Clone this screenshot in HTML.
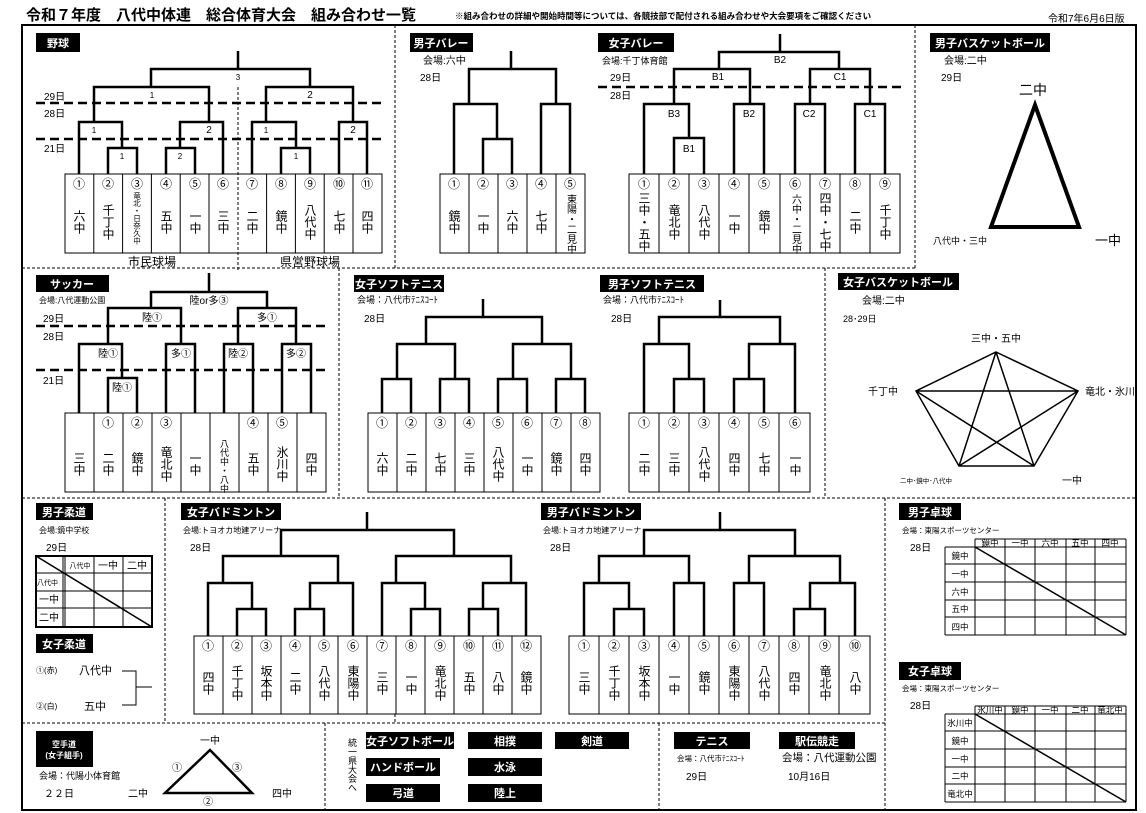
<!DOCTYPE html>
<html><head><meta charset="utf-8">
<style>
html,body{margin:0;padding:0;background:#fff;}
svg{display:block;font-family:"Liberation Sans","Noto Sans CJK JP",sans-serif;}
.b{stroke:#000;stroke-width:2.5;fill:none;}
.c{stroke:#000;stroke-width:1;fill:none;}
.d{stroke:#000;stroke-width:2.5;fill:none;stroke-dasharray:9 5;}
.s{stroke:#000;stroke-width:1;fill:none;stroke-dasharray:3 2;}
.n{font-size:12px;text-anchor:middle;}
.v{font-size:12px;writing-mode:vertical-rl;text-anchor:middle;}
.vs{font-size:7.5px;writing-mode:vertical-rl;text-anchor:middle;}
.l{font-size:8px;text-anchor:middle;}
.lb{font-size:10px;text-anchor:middle;}
.t{font-size:11px;font-weight:bold;fill:#fff;text-anchor:middle;}
.sm{font-size:9px;}
.md{font-size:10px;}
</style></head><body>
<svg width="1146" height="813" viewBox="0 0 1146 813" xmlns="http://www.w3.org/2000/svg">
<!-- header -->
<text x="26" y="20" style="font-size:15px;font-weight:bold">令和７年度　八代中体連　総合体育大会　組み合わせ一覧</text>
<text x="455" y="19" style="font-size:8.5px;font-weight:bold">※組み合わせの詳細や開始時間等については、各競技部で配付される組み合わせや大会要項をご確認ください</text>
<text x="1048" y="22" class="md">令和7年6月6日版</text>
<rect x="22" y="25" width="1114" height="785" fill="none" stroke="#000" stroke-width="2"/>

<!-- separators -->
<path class="s" d="M395 25 V268 M915 25 V268 M22 268 H915 M339 268 V498 M825 268 V498 M22 498 H1136 M165 498 V723 M885 498 V810 M22 723 H885 M325 723 V810 M659 723 V810 M395 714 V723"/>

<!-- ===== 野球 ===== -->
<rect x="36" y="33" width="44" height="19" fill="#000"/><text x="58" y="47" class="t">野球</text>
<text x="44" y="100" class="md">29日</text><text x="44" y="117" class="md">28日</text><text x="44" y="152" class="md">21日</text>
<path class="d" d="M36 103 H382 M36 139 H382"/>
<path class="s" d="M238 87 V270"/>
<path class="b" d="M108 174V148H137V174 M166 174V148H195V174 M79 174V122H122V148 M180 148V122H223V174 M94 122V87H209V122 M281 174V148H310V174 M252 174V122H296V148 M339 174V122H367V174 M266 122V87H353V122 M151 87V69H310V87 M238 69V51"/>
<text x="238" y="80" class="l">3</text><text x="152" y="98" class="l">1</text><text x="310" y="98" class="lb">2</text>
<text x="94" y="133" class="l">1</text><text x="209" y="133" class="lb">2</text><text x="266" y="133" class="l">1</text><text x="353" y="133" class="lb">2</text>
<text x="122" y="159" class="l">1</text><text x="180" y="159" class="l">2</text><text x="296" y="159" class="l">1</text>
<rect class="c" x="65" y="174" width="317" height="79"/>
<path class="c" d="M93.8 174V253M122.6 174V253M151.4 174V253M180.2 174V253M209 174V253M266.6 174V253M295.4 174V253M324.2 174V253M353 174V253"/>
<g class="n"><text x="79" y="188">①</text><text x="108" y="188">②</text><text x="137" y="188">③</text><text x="166" y="188">④</text><text x="195" y="188">⑤</text><text x="223" y="188">⑥</text><text x="252" y="188">⑦</text><text x="281" y="188">⑧</text><text x="310" y="188">⑨</text><text x="339" y="188">⑩</text><text x="367" y="188">⑪</text></g>
<text class="v" x="79" y="222">六中</text><text class="v" x="108" y="222">千丁中</text><text class="vs" x="137" y="218">竜北・日奈久中</text><text class="v" x="166" y="222">五中</text><text class="v" x="195" y="222">一中</text><text class="v" x="223" y="222">三中</text><text class="v" x="252" y="222">二中</text><text class="v" x="281" y="222">鏡中</text><text class="v" x="310" y="222">八代中</text><text class="v" x="339" y="222">七中</text><text class="v" x="367" y="222">四中</text>
<text x="152" y="266" class="n">市民球場</text><text x="310" y="266" class="n">県営野球場</text>

<!-- ===== 男子バレー ===== -->
<rect x="410" y="33" width="63" height="19" fill="#000"/><text x="441" y="47" class="t">男子バレー</text>
<text x="423" y="64" class="md">会場:六中</text><text x="420" y="81" class="md">28日</text>
<path class="b" d="M483 174V139H512V174 M454 174V104H497V139 M541 174V104H570V174 M469 104V69H556V104 M511 69V51"/>
<rect class="c" x="440" y="174" width="145" height="79"/>
<path class="c" d="M469 174V253M498 174V253M527 174V253M556 174V253"/>
<g class="n"><text x="454" y="188">①</text><text x="483" y="188">②</text><text x="512" y="188">③</text><text x="541" y="188">④</text><text x="570" y="188">⑤</text></g>
<text class="v" x="454" y="222">鏡中</text><text class="v" x="483" y="222">一中</text><text class="v" x="512" y="222">六中</text><text class="v" x="541" y="222">七中</text><text class="v" x="570" y="224" style="font-size:10px">東陽・二見中</text>

<!-- ===== 女子バレー ===== -->
<rect x="598" y="33" width="76" height="19" fill="#000"/><text x="636" y="47" class="t">女子バレー</text>
<text x="602" y="64" class="sm">会場:千丁体育館</text><text x="610" y="81" class="md">29日</text><text x="610" y="99" class="md">28日</text>
<path class="d" d="M598 87 H901"/>
<path class="b" d="M674 174V138H704V174 M644 174V104H689V138 M734 174V104H764V174 M795 174V104H825V174 M855 174V104H885V174 M674 104V69H750V104 M810 104V69H870V104 M719 69V52H839V69 M780 52V34"/>
<text x="780" y="63" class="lb">B2</text><text x="718" y="80" class="lb">B1</text><text x="840" y="80" class="lb">C1</text>
<text x="674" y="117" class="lb">B3</text><text x="749" y="117" class="lb">B2</text><text x="809" y="117" class="lb">C2</text><text x="870" y="117" class="lb">C1</text><text x="689" y="152" class="lb">B1</text>
<rect class="c" x="629" y="174" width="271" height="79"/>
<path class="c" d="M659 174V253M689 174V253M719 174V253M749 174V253M780 174V253M810 174V253M840 174V253M870 174V253"/>
<g class="n"><text x="644" y="188">①</text><text x="674" y="188">②</text><text x="704" y="188">③</text><text x="734" y="188">④</text><text x="764" y="188">⑤</text><text x="795" y="188">⑥</text><text x="825" y="188">⑦</text><text x="855" y="188">⑧</text><text x="885" y="188">⑨</text></g>
<text class="v" x="644" y="222">三中・五中</text><text class="v" x="674" y="222">竜北中</text><text class="v" x="704" y="222">八代中</text><text class="v" x="734" y="222">一中</text><text class="v" x="764" y="222">鏡中</text><text class="v" x="795" y="224" style="font-size:10px">六中・二見中</text><text class="v" x="825" y="222">四中・七中</text><text class="v" x="855" y="222">二中</text><text class="v" x="885" y="222">千丁中</text>

<!-- ===== 男子バスケ ===== -->
<rect x="930" y="33" width="120" height="19" fill="#000"/><text x="990" y="47" class="t">男子バスケットボール</text>
<text x="944" y="64" class="md">会場:二中</text><text x="941" y="81" class="md">29日</text>
<text x="1033" y="95" style="font-size:14px;text-anchor:middle">二中</text>
<path d="M1035 105 L991 227 L1079 227 Z" fill="none" stroke="#000" stroke-width="4"/>
<text x="933" y="244" class="sm">八代中・三中</text><text x="1095" y="245" style="font-size:13px">一中</text>

<!-- ===== サッカー ===== -->
<rect x="36" y="275" width="73" height="17" fill="#000"/><text x="72" y="288" class="t">サッカー</text>
<text x="39" y="303" style="font-size:8px">会場:八代運動公園</text>
<text x="43" y="322" class="md">29日</text><text x="43" y="340" class="md">28日</text><text x="43" y="384" class="md">21日</text>
<path class="d" d="M36 326 H326 M36 370 H326"/>
<path class="b" d="M108 413V378H137V413 M79 413V344H122V378 M166 413V344H195V413 M224 413V344H253V413 M282 413V344H311V413 M108 344V308H181V344 M238 344V308H296V344 M151 308V292H267V308 M209 292V273"/>
<text x="209" y="304" class="lb">陸or多③</text><text x="152" y="321" class="lb">陸①</text><text x="267" y="321" class="lb">多①</text>
<text x="108" y="357" class="lb">陸①</text><text x="181" y="357" class="lb">多①</text><text x="238" y="357" class="lb">陸②</text><text x="296" y="357" class="lb">多②</text><text x="122" y="391" class="lb">陸①</text>
<rect class="c" x="65" y="413" width="261" height="79"/>
<path class="c" d="M94 413V492M123 413V492M152 413V492M181 413V492M210 413V492M239 413V492M268 413V492M297 413V492"/>
<g class="n"><text x="108" y="427">①</text><text x="137" y="427">②</text><text x="166" y="427">③</text><text x="253" y="427">④</text><text x="282" y="427">⑤</text></g>
<text class="v" x="79" y="464">三中</text><text class="v" x="108" y="464">二中</text><text class="v" x="137" y="464">鏡中</text><text class="v" x="166" y="464">竜北中</text><text class="v" x="195" y="464">一中</text><text class="v" x="224" y="466" style="font-size:9px">八代中・八中</text><text class="v" x="253" y="464">五中</text><text class="v" x="282" y="464">氷川中</text><text class="v" x="311" y="464">四中</text>

<!-- ===== 女子ソフトテニス ===== -->
<rect x="354" y="275" width="90" height="17" fill="#000"/><text x="399" y="288" class="t">女子ソフトテニス</text>
<text x="357" y="303" class="sm">会場：八代市ﾃﾆｽｺｰﾄ</text><text x="364" y="322" class="md">28日</text>
<path class="b" d="M382 413V379H411V413 M440 413V379H469V413 M498 413V379H527V413 M556 413V379H585V413 M397 379V344H455V379 M513 379V344H571V379 M426 344V317H542V344 M483 317V299"/>
<rect class="c" x="368" y="413" width="232" height="79"/>
<path class="c" d="M397 413V492M426 413V492M455 413V492M484 413V492M513 413V492M542 413V492M571 413V492"/>
<g class="n"><text x="382" y="427">①</text><text x="411" y="427">②</text><text x="440" y="427">③</text><text x="469" y="427">④</text><text x="498" y="427">⑤</text><text x="527" y="427">⑥</text><text x="556" y="427">⑦</text><text x="585" y="427">⑧</text></g>
<text class="v" x="382" y="464">六中</text><text class="v" x="411" y="464">二中</text><text class="v" x="440" y="464">七中</text><text class="v" x="469" y="464">三中</text><text class="v" x="498" y="464">八代中</text><text class="v" x="527" y="464">一中</text><text class="v" x="556" y="464">鏡中</text><text class="v" x="585" y="464">四中</text>

<!-- ===== 男子ソフトテニス ===== -->
<rect x="600" y="275" width="104" height="17" fill="#000"/><text x="652" y="288" class="t">男子ソフトテニス</text>
<text x="603" y="303" class="sm">会場：八代市ﾃﾆｽｺｰﾄ</text><text x="611" y="322" class="md">28日</text>
<path class="b" d="M674 413V379H704V413 M734 413V379H764V413 M644 413V344H689V379 M749 379V344H795V413 M659 344V317H780V344 M720 317V300"/>
<rect class="c" x="629" y="413" width="181" height="79"/>
<path class="c" d="M659 413V492M689 413V492M719 413V492M749 413V492M779 413V492"/>
<g class="n"><text x="644" y="427">①</text><text x="674" y="427">②</text><text x="704" y="427">③</text><text x="734" y="427">④</text><text x="764" y="427">⑤</text><text x="795" y="427">⑥</text></g>
<text class="v" x="644" y="464">二中</text><text class="v" x="674" y="464">三中</text><text class="v" x="704" y="464">八代中</text><text class="v" x="734" y="464">四中</text><text class="v" x="764" y="464">七中</text><text class="v" x="795" y="464">一中</text>

<!-- ===== 女子バスケ ===== -->
<rect x="838" y="273" width="121" height="17" fill="#000"/><text x="898" y="286" class="t">女子バスケットボール</text>
<text x="862" y="304" class="md">会場:二中</text><text x="843" y="322" class="sm">28･29日</text>
<path fill="none" stroke="#000" stroke-width="1.5" d="M996 352 L1078 391 L1034 466 L959 466 L916 391 Z M996 352 L1034 466 M996 352 L959 466 M916 391 L1078 391 M916 391 L1034 466 M1078 391 L959 466"/>
<text x="996" y="342" class="md" style="text-anchor:middle">三中・五中</text>
<text x="883" y="395" class="md" style="text-anchor:middle">千丁中</text>
<text x="1085" y="395" class="md">竜北・氷川</text>
<text x="900" y="483" style="font-size:6.5px">二中･鏡中･八代中</text>
<text x="1062" y="484" class="md">一中</text>

<!-- ===== 男子柔道 ===== -->
<rect x="36" y="503" width="57" height="17" fill="#000"/><text x="64" y="516" class="t">男子柔道</text>
<text x="39" y="533" style="font-size:8px">会場:鏡中学校</text><text x="46" y="551" class="md">29日</text>
<rect x="36" y="556" width="116" height="71" fill="none" stroke="#000" stroke-width="2"/>
<path class="c" d="M36 573H152M36 591H152M36 608H152M63 556V627M65 556V627M94 556V627M123 556V627"/>
<path d="M36 556 L152 627" stroke="#000" stroke-width="1.5"/>
<text x="80" y="568" style="font-size:7px;text-anchor:middle">八代中</text><text x="108" y="569" class="md" style="text-anchor:middle">一中</text><text x="137" y="569" class="md" style="text-anchor:middle">二中</text>
<text x="37" y="585" style="font-size:7px">八代中</text><text x="39" y="603" class="md">一中</text><text x="39" y="621" class="md">二中</text>
<rect x="36" y="634" width="57" height="19" fill="#000"/><text x="64" y="648" class="t">女子柔道</text>
<text x="36" y="673" style="font-size:8px">①(赤)</text><text x="79" y="674" style="font-size:11px">八代中</text>
<text x="36" y="709" style="font-size:8px">②(白)</text><text x="84" y="710" style="font-size:11px">五中</text>
<path fill="none" stroke="#000" stroke-width="1" d="M122 671H136V705H122 M136 687H152"/>

<!-- ===== 女子バドミントン ===== -->
<rect x="181" y="503" width="100" height="17" fill="#000"/><text x="231" y="516" class="t">女子バドミントン</text>
<text x="183" y="533" style="font-size:8px">会場:トヨオカ地建アリーナ</text><text x="190" y="551" class="md">28日</text>
<path class="b" d="M237 636V609H266V636 M295 636V609H324V636 M411 636V609H440V636 M469 636V609H498V636 M208 636V583H252V609 M310 609V583H353V636 M382 636V583H425V609 M483 609V583H526V636 M223 583V556H338V583 M396 583V556H511V583 M281 556V530H454V556 M367 530V512"/>
<rect class="c" x="194" y="636" width="347" height="78"/>
<path class="c" d="M223 636V714M252 636V714M281 636V714M310 636V714M338 636V714M367 636V714M396 636V714M425 636V714M454 636V714M483 636V714M512 636V714"/>
<g class="n"><text x="208" y="650">①</text><text x="237" y="650">②</text><text x="266" y="650">③</text><text x="295" y="650">④</text><text x="324" y="650">⑤</text><text x="353" y="650">⑥</text><text x="382" y="650">⑦</text><text x="411" y="650">⑧</text><text x="440" y="650">⑨</text><text x="469" y="650">⑩</text><text x="498" y="650">⑪</text><text x="526" y="650">⑫</text></g>
<text class="v" x="208" y="683">四中</text><text class="v" x="237" y="683">千丁中</text><text class="v" x="266" y="683">坂本中</text><text class="v" x="295" y="683">二中</text><text class="v" x="324" y="683">八代中</text><text class="v" x="353" y="683">東陽中</text><text class="v" x="382" y="683">三中</text><text class="v" x="411" y="683">一中</text><text class="v" x="440" y="683">竜北中</text><text class="v" x="469" y="683">五中</text><text class="v" x="498" y="683">八中</text><text class="v" x="526" y="683">鏡中</text>

<!-- ===== 男子バドミントン ===== -->
<rect x="541" y="503" width="100" height="17" fill="#000"/><text x="591" y="516" class="t">男子バドミントン</text>
<text x="543" y="533" style="font-size:8px">会場:トヨオカ地建アリーナ</text><text x="550" y="551" class="md">28日</text>
<path class="b" d="M614 636V609H644V636 M584 636V583H629V609 M674 636V583H704V636 M734 636V583H764V636 M794 636V609H825V636 M810 609V583H855V636 M599 583V556H689V583 M749 583V556H840V583 M644 556V530H795V556 M720 530V512"/>
<rect class="c" x="569" y="636" width="301" height="78"/>
<path class="c" d="M599 636V714M629 636V714M659 636V714M689 636V714M719 636V714M749 636V714M779 636V714M809 636V714M839 636V714"/>
<g class="n"><text x="584" y="650">①</text><text x="614" y="650">②</text><text x="644" y="650">③</text><text x="674" y="650">④</text><text x="704" y="650">⑤</text><text x="734" y="650">⑥</text><text x="764" y="650">⑦</text><text x="794" y="650">⑧</text><text x="825" y="650">⑨</text><text x="855" y="650">⑩</text></g>
<text class="v" x="584" y="683">三中</text><text class="v" x="614" y="683">千丁中</text><text class="v" x="644" y="683">坂本中</text><text class="v" x="674" y="683">一中</text><text class="v" x="704" y="683">鏡中</text><text class="v" x="734" y="683">東陽中</text><text class="v" x="764" y="683">八代中</text><text class="v" x="794" y="683">四中</text><text class="v" x="825" y="683">竜北中</text><text class="v" x="855" y="683">八中</text>

<!-- ===== 男子卓球 ===== -->
<rect x="899" y="503" width="62" height="17" fill="#000"/><text x="930" y="516" class="t">男子卓球</text>
<text x="902" y="533" style="font-size:7.5px">会場：東陽スポーツセンター</text><text x="910" y="551" class="md">28日</text>
<path class="c" d="M975 539H1126 M945 547H1126 M945 564H1126 M945 582H1126 M945 600H1126 M945 617H1126 M945 635H1126 M945 547V635 M975 539V635 M1005 539V635 M1035 539V635 M1066 539V635 M1095 539V635 M1126 539V635"/>
<path d="M975 547 L1126 635" stroke="#000" stroke-width="1.5"/>
<g style="font-size:8.5px;text-anchor:middle"><text x="990" y="546">鏡中</text><text x="1020" y="546">一中</text><text x="1050" y="546">六中</text><text x="1080" y="546">五中</text><text x="1110" y="546">四中</text>
<text x="960" y="559">鏡中</text><text x="960" y="577">一中</text><text x="960" y="595">六中</text><text x="960" y="612">五中</text><text x="960" y="630">四中</text></g>

<!-- ===== 女子卓球 ===== -->
<rect x="899" y="662" width="62" height="18" fill="#000"/><text x="930" y="675" class="t">女子卓球</text>
<text x="902" y="691" style="font-size:7.5px">会場：東陽スポーツセンター</text><text x="910" y="709" class="md">28日</text>
<path class="c" d="M975 706H1126 M945 714H1126 M945 731H1126 M945 749H1126 M945 767H1126 M945 784H1126 M945 802H1126 M945 714V802 M975 706V802 M1005 706V802 M1035 706V802 M1066 706V802 M1095 706V802 M1126 706V802"/>
<path d="M975 714 L1126 802" stroke="#000" stroke-width="1.5"/>
<g style="font-size:8.5px;text-anchor:middle"><text x="990" y="713">氷川中</text><text x="1020" y="713">鏡中</text><text x="1050" y="713">一中</text><text x="1080" y="713">二中</text><text x="1110" y="713">竜北中</text>
<text x="960" y="726">氷川中</text><text x="960" y="744">鏡中</text><text x="960" y="762">一中</text><text x="960" y="779">二中</text><text x="960" y="797">竜北中</text></g>

<!-- ===== 空手道 ===== -->
<rect x="36" y="731" width="57" height="36" fill="#000"/>
<text x="64" y="747" class="t" style="font-size:8px">空手道</text><text x="64" y="758" class="t" style="font-size:8px">(女子組手)</text>
<text x="39" y="779" class="sm">会場：代陽小体育館</text><text x="44" y="797" class="md">２２日</text>
<text x="138" y="797" class="md" style="text-anchor:middle">二中</text>
<path d="M210 750 L165 793 L252 793 Z" fill="none" stroke="#000" stroke-width="2.5"/>
<text x="210" y="744" class="md" style="text-anchor:middle">一中</text>
<text x="177" y="771" class="md" style="text-anchor:middle">①</text><text x="237" y="771" class="md" style="text-anchor:middle">③</text><text x="208" y="805" class="md" style="text-anchor:middle">②</text>
<text x="282" y="797" class="md" style="text-anchor:middle">四中</text>

<!-- ===== 県大会へ ===== -->
<text class="vs" x="352" y="765" style="font-size:9px">統一県大会へ</text>
<rect x="366" y="732" width="88" height="17" fill="#000"/><text x="410" y="745" class="t">女子ソフトボール</text>
<rect x="468" y="732" width="74" height="17" fill="#000"/><text x="505" y="745" class="t">相撲</text>
<rect x="555" y="732" width="74" height="17" fill="#000"/><text x="592" y="745" class="t">剣道</text>
<rect x="366" y="758" width="74" height="18" fill="#000"/><text x="403" y="771" class="t">ハンドボール</text>
<rect x="468" y="758" width="74" height="18" fill="#000"/><text x="505" y="771" class="t">水泳</text>
<rect x="366" y="784" width="74" height="18" fill="#000"/><text x="403" y="797" class="t">弓道</text>
<rect x="468" y="784" width="74" height="18" fill="#000"/><text x="505" y="797" class="t">陸上</text>

<!-- ===== テニス / 駅伝 ===== -->
<rect x="674" y="732" width="76" height="17" fill="#000"/><text x="712" y="745" class="t">テニス</text>
<text x="677" y="761" style="font-size:7.5px">会場：八代市ﾃﾆｽｺｰﾄ</text><text x="686" y="780" class="md">29日</text>
<rect x="779" y="732" width="76" height="17" fill="#000"/><text x="817" y="745" class="t">駅伝競走</text>
<text x="782" y="761" style="font-size:10.5px">会場：八代運動公園</text><text x="788" y="780" class="md">10月16日</text>
</svg>
</body></html>
